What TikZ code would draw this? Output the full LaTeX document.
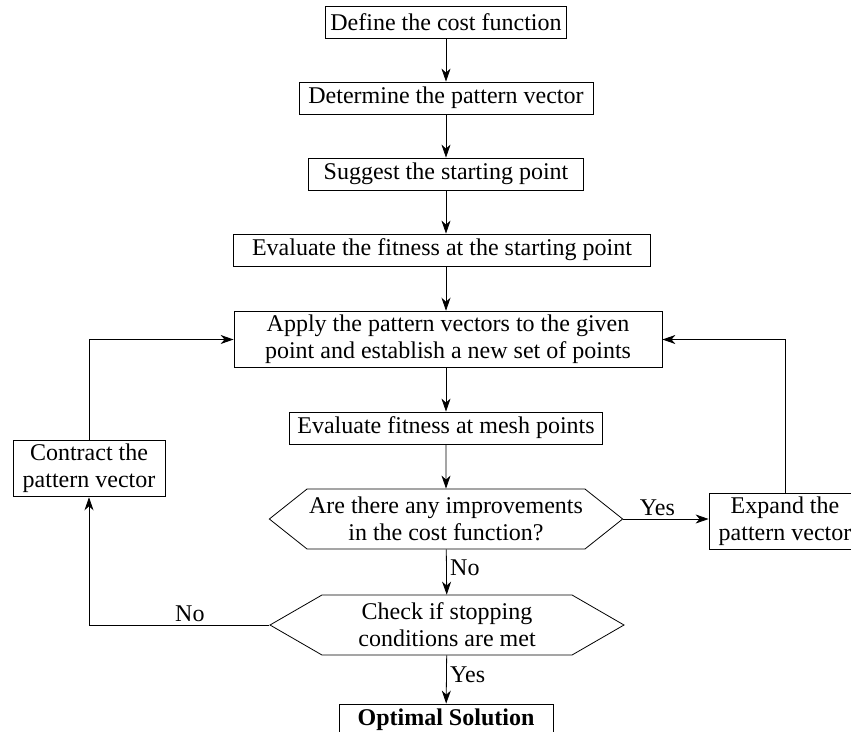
\documentclass[tikz,border=0pt]{standalone}
\usepackage{fontspec}
\setmainfont{Liberation Serif}
\usetikzlibrary{arrows.meta,shapes.symbols}
\begin{document}
\begin{tikzpicture}[x=1pt,y=-1pt,line width=0.8pt,>={Stealth[length=13pt,width=9pt,inset=4pt]},
  every node/.style={font=\fontsize{24}{27}\selectfont},
  blk/.style={draw,inner xsep=3pt,inner ysep=4pt,minimum height=32pt,align=center},
  hexa/.style={draw,shape=signal,signal to=west and east,inner sep=2pt,align=center}]
\useasboundingbox (0,0) rectangle (851,731);
% main column
\node[blk,minimum width=241pt] (def) at (446,22) {Define the cost function};
\node[blk,minimum width=294pt] (det) at (446,98) {Determine the pattern vector};
\node[blk,minimum width=275pt] (sug) at (446,174) {Suggest the starting point};
\node[blk,minimum width=417pt] (evs) at (442,250) {Evaluate the fitness at the starting point};
\node[blk,minimum width=428pt] (app) at (448,339.5) {Apply the pattern vectors to the given\\point and establish a new set of points};
\node[blk,minimum width=313pt] (mesh) at (446,428) {Evaluate fitness at mesh points};
\node[hexa,minimum width=352pt,minimum height=60pt,signal pointer angle=77] (imp) at (446,519) {Are there any improvements\\in the cost function?};
\node[hexa,minimum width=354pt,minimum height=60pt,signal pointer angle=60] (stop) at (447,625) {Check if stopping\\conditions are met};
\node[blk,minimum width=214pt,font=\fontsize{24}{27}\selectfont\bfseries] (opt) at (446,720) {Optimal Solution};
% side boxes
\node[blk,minimum width=152pt] (con) at (89,468.5) {Contract the\\pattern vector};
\node[blk,minimum width=152pt] (exp) at (785,521.5) {Expand the\\pattern vector};
% arrows
\draw[->] (def) -- (det);
\draw[->] (det) -- (sug);
\draw[->] (sug.south) -- (sug.south |- evs.north);
\draw[->] (evs.south -| sug) -- (app.north -| sug);
\draw[->] (app.south -| sug) -- (mesh.north);
\draw[->] (mesh) -- (imp);
\draw[->] (imp) -- (stop) node[pos=0.4,right] {No};
\draw[->] (stop) -- (opt) node[pos=0.4,right] {Yes};
\draw[->] (imp.east) -- (imp.east -| exp.west) node[pos=0.4,above] {Yes};
\draw[->] (exp.north) |- (app.east);
\draw[->] (stop.west) -| (con.south) node[pos=0.22,above] {No};
\draw[->] (con.north) |- (app.west);
\end{tikzpicture}
\end{document}
